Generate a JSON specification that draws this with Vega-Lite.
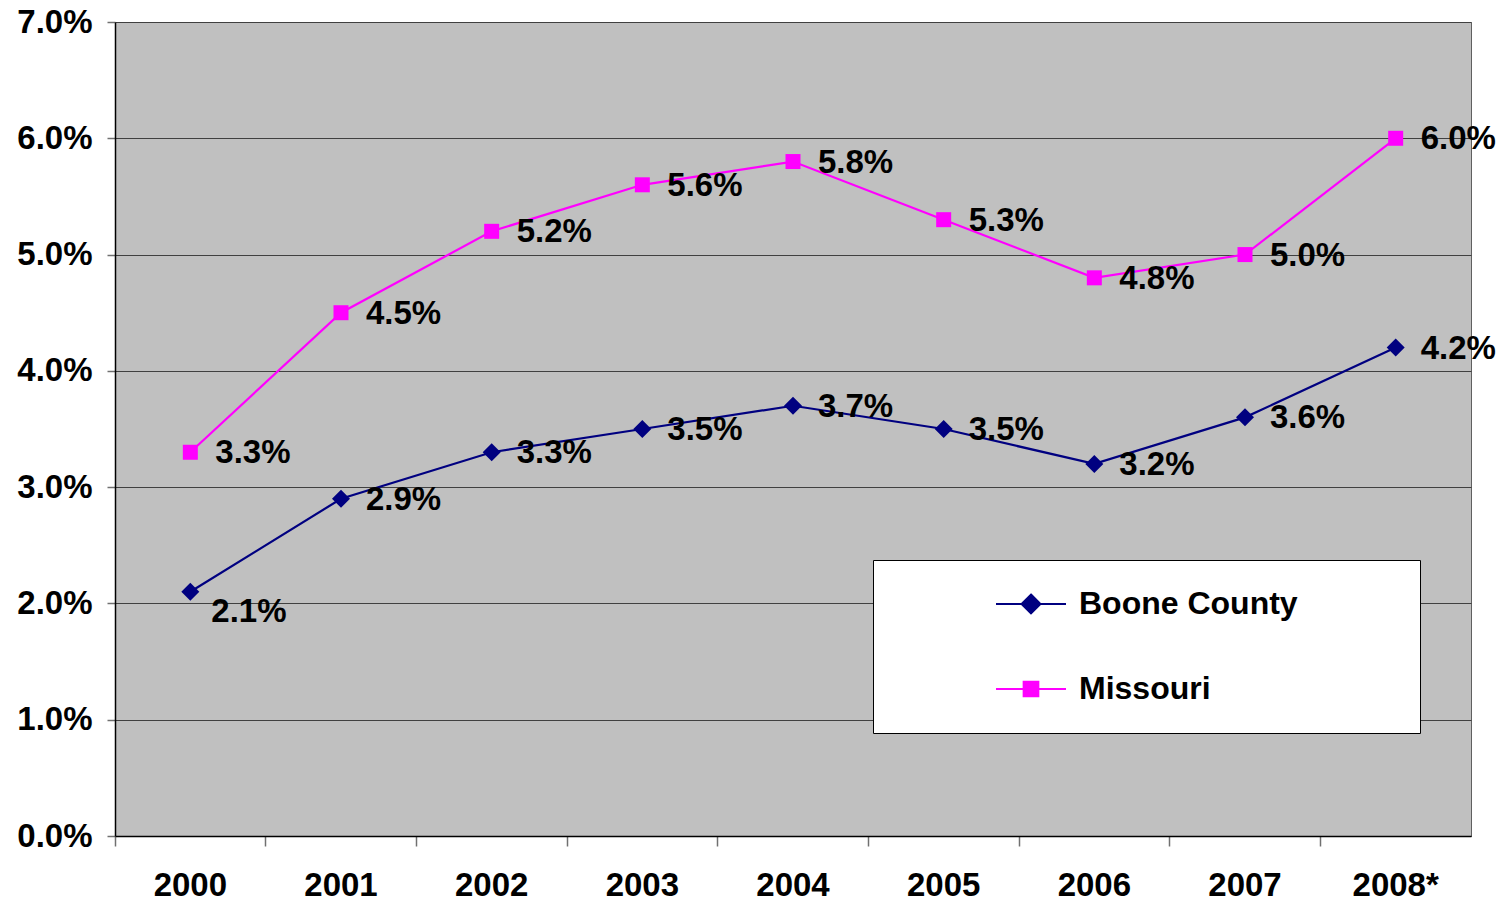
{
  "$schema": "https://vega.github.io/schema/vega-lite/v6.json",
  "autosize": {"type": "none"},
  "width": 1356,
  "height": 814,
  "padding": {"left": 115, "top": 22, "right": 36, "bottom": 67},
  "background": "white",
  "data": {"values": [
    {"year": "2000", "series": "Boone County", "rate": 0.021},
    {"year": "2001", "series": "Boone County", "rate": 0.029},
    {"year": "2002", "series": "Boone County", "rate": 0.033},
    {"year": "2003", "series": "Boone County", "rate": 0.035},
    {"year": "2004", "series": "Boone County", "rate": 0.037},
    {"year": "2005", "series": "Boone County", "rate": 0.035},
    {"year": "2006", "series": "Boone County", "rate": 0.032},
    {"year": "2007", "series": "Boone County", "rate": 0.036},
    {"year": "2008*", "series": "Boone County", "rate": 0.042},
    {"year": "2000", "series": "Missouri", "rate": 0.033},
    {"year": "2001", "series": "Missouri", "rate": 0.045},
    {"year": "2002", "series": "Missouri", "rate": 0.052},
    {"year": "2003", "series": "Missouri", "rate": 0.056},
    {"year": "2004", "series": "Missouri", "rate": 0.058},
    {"year": "2005", "series": "Missouri", "rate": 0.053},
    {"year": "2006", "series": "Missouri", "rate": 0.048},
    {"year": "2007", "series": "Missouri", "rate": 0.050},
    {"year": "2008*", "series": "Missouri", "rate": 0.060}
  ]},
  "config": {
    "view": {"fill": "#C0C0C0", "stroke": "#606060", "strokeWidth": 1},
    "font": "Liberation Sans"
  },
  "encoding": {
    "x": {
      "field": "year", "type": "ordinal",
      "scale": {"type": "band", "domain": ["2000","2001","2002","2003","2004","2005","2006","2007","2008*"], "paddingInner": 0, "paddingOuter": 0},
      "axis": {
        "title": null, "labelAngle": 0, "bandPosition": 0,
        "domainColor": "black", "domainWidth": 1.5,
        "tickColor": "#707070", "tickSize": 10, "tickWidth": 1.5,
        "labelFont": "Liberation Sans", "labelFontSize": 33, "labelFontWeight": "bold", "labelColor": "black",
        "labelPadding": 23, "labelFlush": false, "labelAlign": "center", "grid": false
      }
    },
    "y": {
      "field": "rate", "type": "quantitative",
      "scale": {"domain": [0, 0.07], "nice": false},
      "axis": {
        "title": null, "format": ".1%", "values": [0, 0.01, 0.02, 0.03, 0.04, 0.05, 0.06, 0.07],
        "domainColor": "black", "domainWidth": 1.5,
        "tickColor": "#707070", "tickSize": 8, "tickWidth": 1.5,
        "gridColor": "#404040", "gridWidth": 1,
        "labelFont": "Liberation Sans", "labelFontSize": 33, "labelFontWeight": "bold", "labelColor": "black",
        "labelPadding": 15
      }
    }
  },
  "layer": [
    {
      "mark": {"type": "line", "strokeWidth": 2.2},
      "encoding": {
        "color": {
          "field": "series", "type": "nominal",
          "scale": {"domain": ["Boone County", "Missouri"], "range": ["#000080", "#FF00FF"]},
          "legend": {
            "title": null, "orient": "none", "legendX": 758, "legendY": 538,
            "fillColor": "white", "strokeColor": "black", "padding": 8,
            "symbolOffset": 114, "symbolSize": 4900, "symbolStrokeWidth": 2,
            "labelFont": "Liberation Sans", "labelFontSize": 32, "labelFontWeight": "bold", "labelColor": "black",
            "labelOffset": 12, "rowPadding": 10, "labelLimit": 600,
            "encode": {
              "symbols": {
                "update": {
                  "shape": {"signal": "datum.value === 'Boone County' ? 'M0,-1M10.75,0.9M-1,0H1M0,-0.27L0.27,0L0,0.27L-0.27,0Z' : 'M0,-1M10.75,0.9M-1,0H1M-0.21,-0.21H0.21V0.21H-0.21Z'"},
                  "fill": {"signal": "datum.value === 'Boone County' ? '#000080' : '#FF00FF'"},
                  "stroke": {"signal": "datum.value === 'Boone County' ? '#000080' : '#FF00FF'"}
                }
              }
            }
          }
        }
      }
    },
    {
      "transform": [{"filter": "datum.series === 'Boone County'"}],
      "mark": {"type": "point", "shape": "diamond", "filled": true, "size": 324, "color": "#000080", "opacity": 1}
    },
    {
      "transform": [{"filter": "datum.series === 'Missouri'"}],
      "mark": {"type": "point", "shape": "square", "filled": true, "size": 225, "color": "#FF00FF", "opacity": 1}
    },
    {
      "transform": [{"filter": "!(datum.series === 'Boone County' && datum.year === '2000')"}],
      "mark": {"type": "text", "align": "left", "baseline": "middle", "dx": 25, "dy": 1, "font": "Liberation Sans", "fontSize": 33, "fontWeight": "bold", "color": "black"},
      "encoding": {"text": {"field": "rate", "type": "quantitative", "format": ".1%"}}
    },
    {
      "transform": [{"filter": "datum.series === 'Boone County' && datum.year === '2000'"}],
      "mark": {"type": "text", "align": "left", "baseline": "middle", "dx": 21, "dy": 20, "font": "Liberation Sans", "fontSize": 33, "fontWeight": "bold", "color": "black"},
      "encoding": {"text": {"field": "rate", "type": "quantitative", "format": ".1%"}}
    }
  ]
}
